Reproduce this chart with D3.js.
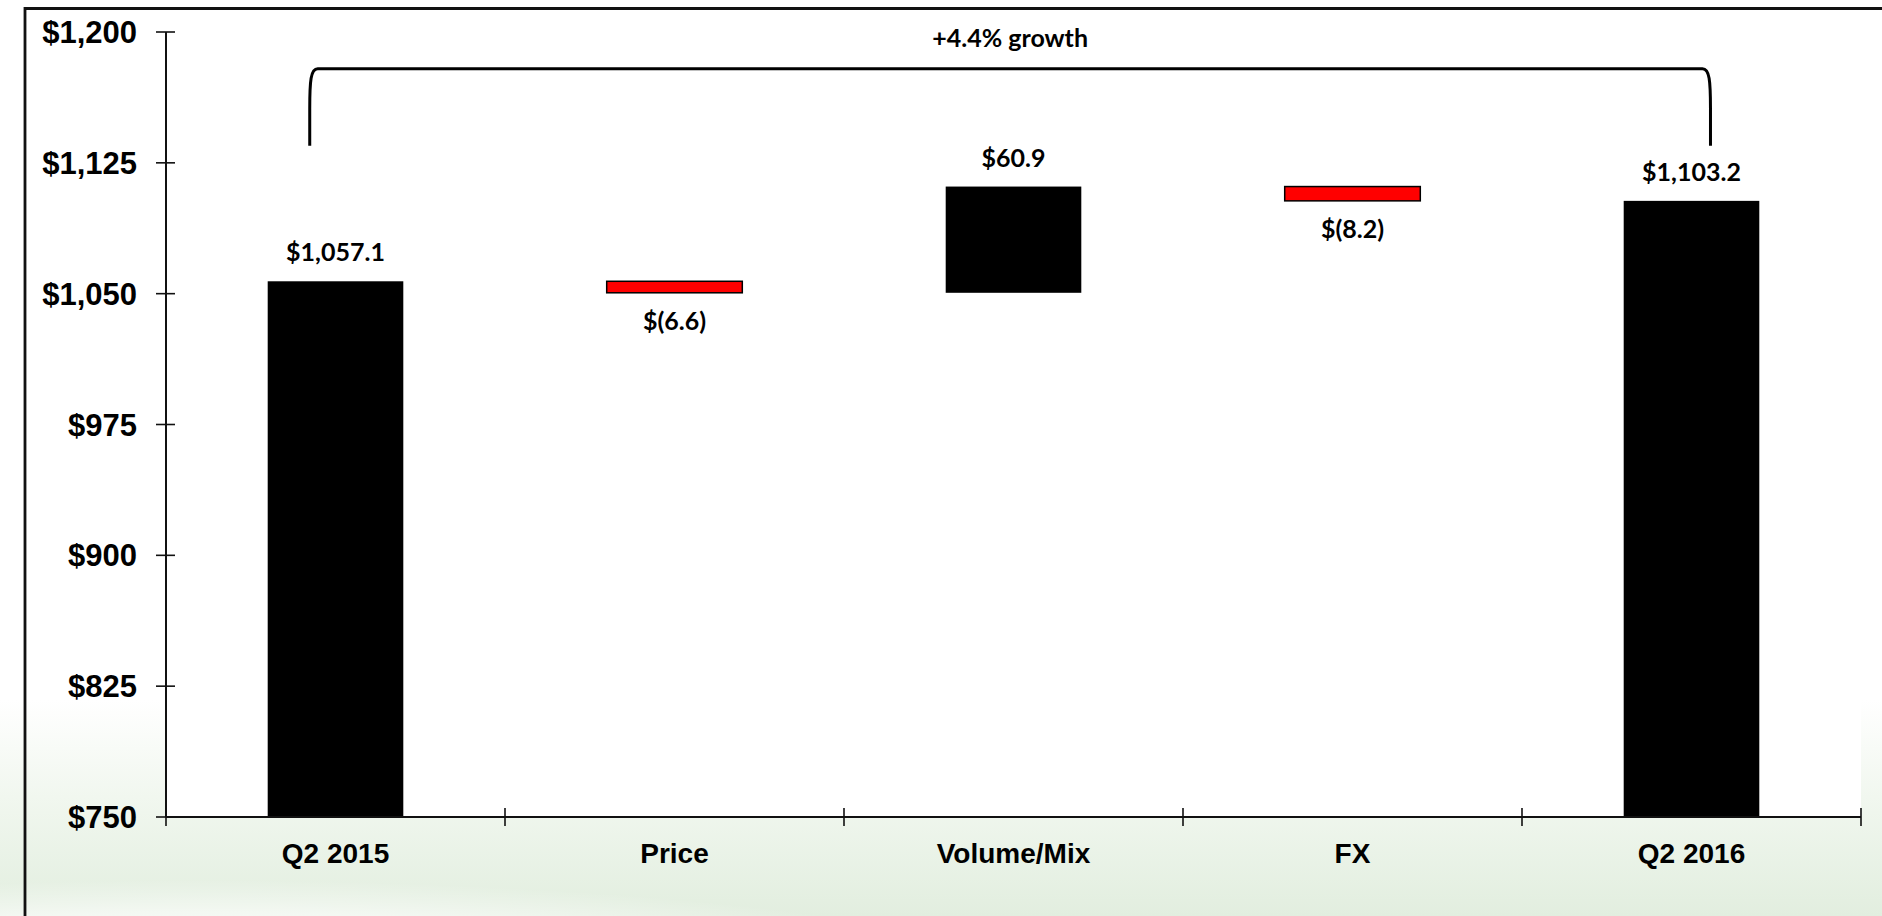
<!DOCTYPE html>
<html><head><meta charset="utf-8">
<script src="https://cdn.jsdelivr.net/npm/d3@7"></script>
<style>html,body{margin:0;padding:0;background:#fff;overflow:hidden}</style>
</head><body>
<svg id="chart" width="1882" height="916"></svg>
<script>
// ---- data ----
const categories = ["Q2 2015", "Price", "Volume/Mix", "FX", "Q2 2016"];
const values = [1057.1, -6.6, 60.9, -8.2, 1103.2];
const kinds = ["total", "delta", "delta", "delta", "total"];
const valueLabels = ["$1,057.1", "$(6.6)", "$60.9", "$(8.2)", "$1,103.2"];
const yTicks = [750, 825, 900, 975, 1050, 1125, 1200];
const growthLabel = "+4.4% growth";
const bracketTopValue = 1179;
const bracketLegValue = 1134.8;

// ---- layout ----
const W = 1882, H = 916;
const plot = {left: 166, right: 1861, top: 32, bottom: 817};
const svg = d3.select("#chart");

// waterfall computation
let running = 0;
const bars = categories.map((c, i) => {
  let lo, hi;
  if (kinds[i] === "total") { lo = 750; hi = values[i]; running = values[i]; }
  else { const s = running; running = s + values[i]; lo = Math.min(s, running); hi = Math.max(s, running); }
  return {cat: c, v: values[i], kind: kinds[i], lo, hi, label: valueLabels[i]};
});

const x = d3.scaleBand().domain(categories).range([plot.left, plot.right]).paddingInner(0.6).paddingOuter(0.3);
const y = d3.scaleLinear().domain([750, 1200]).range([plot.bottom, plot.top]);

// ---- background ----
const defs = svg.append("defs");
const lg = defs.append("linearGradient").attr("id", "bgGrad").attr("x1", 0).attr("y1", 0).attr("x2", 0).attr("y2", 1);
lg.append("stop").attr("offset", "0%").attr("stop-color", "#ffffff");
lg.append("stop").attr("offset", "45%").attr("stop-color", "#f1f7ef");
lg.append("stop").attr("offset", "100%").attr("stop-color", "#e2eedf");
const rg = defs.append("radialGradient").attr("id", "hiGrad");
rg.append("stop").attr("offset", "0%").attr("stop-color", "#ffffff").attr("stop-opacity", 0.95);
rg.append("stop").attr("offset", "70%").attr("stop-color", "#ffffff").attr("stop-opacity", 0.6);
rg.append("stop").attr("offset", "100%").attr("stop-color", "#ffffff").attr("stop-opacity", 0);

svg.append("rect").attr("width", W).attr("height", H).attr("fill", "#ffffff");
svg.append("rect").attr("x", 0).attr("y", 700).attr("width", W).attr("height", H - 700).attr("fill", "url(#bgGrad)");
svg.append("ellipse").attr("cx", 200).attr("cy", 990).attr("rx", 850).attr("ry", 110).attr("fill", "url(#hiGrad)");

// plot area white
svg.append("rect").attr("x", plot.left).attr("y", 10).attr("width", plot.right - plot.left).attr("height", plot.bottom - 10).attr("fill", "#ffffff");

// frame (top and left edges visible)
svg.append("path").attr("d", `M25,${H + 10} L25,8.5 L${W + 10},8.5`).attr("fill", "none").attr("stroke", "#111").attr("stroke-width", 2.8);

// ---- bars ----
svg.append("g").selectAll("rect").data(bars).join("rect")
  .attr("x", d => x(d.cat))
  .attr("width", x.bandwidth())
  .attr("y", d => y(d.hi))
  .attr("height", d => y(d.lo) - y(d.hi))
  .attr("fill", d => (d.kind === "delta" && d.v < 0) ? "#ff0000" : "#000000")
  .attr("stroke", d => (d.kind === "delta" && d.v < 0) ? "#000" : "none")
  .attr("stroke-width", 1.5);

// ---- axes ----
const axisColor = "#111";
// y axis
svg.append("line").attr("x1", plot.left).attr("x2", plot.left).attr("y1", y(1200)).attr("y2", y(750)).attr("stroke", axisColor).attr("stroke-width", 2);
const yg = svg.append("g");
yg.selectAll("line").data(yTicks).join("line")
  .attr("x1", plot.left - 10).attr("x2", plot.left + 9)
  .attr("y1", d => y(d)).attr("y2", d => y(d))
  .attr("stroke", axisColor).attr("stroke-width", 1.6);
yg.selectAll("text").data(yTicks).join("text")
  .attr("x", 137).attr("y", d => y(d)).attr("dy", "0.36em")
  .attr("text-anchor", "end")
  .attr("font-family", "'Liberation Sans', Arial, sans-serif").attr("font-weight", "bold").attr("font-size", 31)
  .attr("fill", "#000")
  .text(d => "$" + d3.format(",")(d));

// x axis
svg.append("line").attr("x1", plot.left).attr("x2", plot.right).attr("y1", y(750)).attr("y2", y(750)).attr("stroke", axisColor).attr("stroke-width", 2.2);
const tickXs = d3.range(categories.length + 1).map(i => plot.left + i * x.step());
svg.append("g").selectAll("line").data(tickXs).join("line")
  .attr("x1", d => d).attr("x2", d => d)
  .attr("y1", y(750) - 9).attr("y2", y(750) + 9)
  .attr("stroke", axisColor).attr("stroke-width", 1.6);
svg.append("g").selectAll("text").data(categories).join("text")
  .attr("x", d => x(d) + x.bandwidth() / 2).attr("y", 863)
  .attr("text-anchor", "middle")
  .attr("font-family", "'Liberation Sans', Arial, sans-serif").attr("font-weight", "bold").attr("font-size", 28)
  .attr("fill", "#000")
  .text(d => d);

// ---- value labels ----
svg.append("g").selectAll("text").data(bars).join("text")
  .attr("x", d => x(d.cat) + x.bandwidth() / 2)
  .attr("y", d => (d.kind === "delta" && d.v < 0) ? y(d.lo) + 37 : y(d.hi) - 20)
  .attr("text-anchor", "middle")
  .attr("font-family", "Lato, 'Open Sans', sans-serif").attr("font-weight", 700).attr("font-size", 25)
  .attr("fill", "#000")
  .text(d => d.label);

// ---- growth bracket ----
const xl = x(categories[0]) + x.bandwidth() * 0.31;
const xr = x(categories[categories.length - 1]) + x.bandwidth() * 0.64;
const yt = y(bracketTopValue), yb = y(bracketLegValue);
svg.append("path")
  .attr("d", `M${xl},${yb} L${xl},${yt + 40} C${xl},${yt + 12} ${xl + 1},${yt} ${xl + 8},${yt} L${xr - 8},${yt} C${xr - 1},${yt} ${xr},${yt + 12} ${xr},${yt + 40} L${xr},${yb}`)
  .attr("fill", "none").attr("stroke", "#000").attr("stroke-width", 3);
svg.append("text")
  .attr("x", (xl + xr) / 2).attr("y", 46.5)
  .attr("text-anchor", "middle")
  .attr("font-family", "Lato, 'Open Sans', sans-serif").attr("font-weight", 700).attr("font-size", 25)
  .attr("fill", "#000")
  .text(growthLabel);
</script>
</body></html>
